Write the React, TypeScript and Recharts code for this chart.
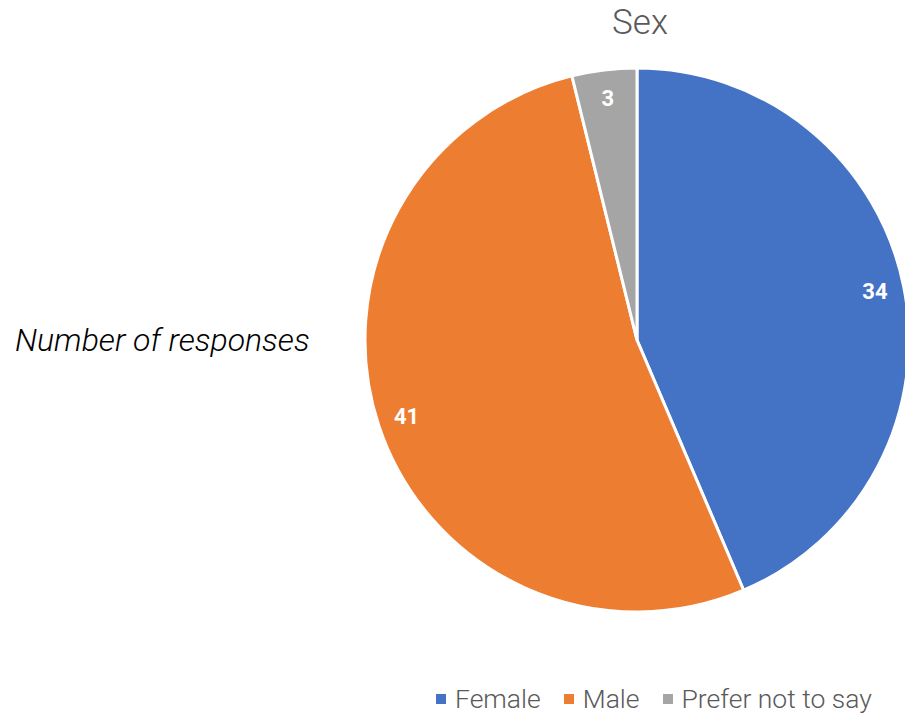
import { PieChart, Pie, Cell, Legend } from 'recharts'

const categories = ['Female', 'Male', 'Prefer not to say']
const responses = [34, 41, 3]
const colors = ['#4472C4', '#ED7D31', '#A5A5A5']

const data = categories.map((name, i) => ({ name, value: responses[i] }))

const RADIAN = Math.PI / 180

function renderLabel(props: any) {
  const { cx, cy, midAngle, outerRadius, value } = props
  const r = outerRadius * 0.893
  const x = cx + r * Math.cos(-midAngle * RADIAN)
  const y = cy + r * Math.sin(-midAngle * RADIAN)
  return (
    <text
      x={x}
      y={y}
      fill="#ffffff"
      textAnchor="middle"
      dominantBaseline="central"
      style={{ fontFamily: 'Roboto', fontWeight: 700, fontSize: 22 }}
    >
      {value}
    </text>
  )
}

function renderLegend(props: any) {
  const { payload } = props
  return (
    <div style={{ display: 'flex', alignItems: 'center', fontFamily: 'Roboto', fontWeight: 300, fontSize: 26.5, color: '#595959', whiteSpace: 'nowrap' }}>
      {payload.map((entry: any, i: number) => (
        <div key={i} style={{ display: 'flex', alignItems: 'center', marginRight: i < payload.length - 1 ? 23 : 0 }}>
          <span style={{ width: 10, height: 10, background: entry.color, display: 'inline-block', marginRight: 9 }} />
          <span>{entry.value}</span>
        </div>
      ))}
    </div>
  )
}

export default function App() {
  return (
    <div style={{ position: 'absolute', left: 0, top: 0, width: 905, height: 718, background: '#fff', overflow: 'hidden' }}>
      <div
        style={{
          position: 'absolute',
          left: 0,
          width: 1280,
          top: 1,
          textAlign: 'center',
          fontFamily: 'Roboto',
          fontWeight: 300,
          fontSize: 35,
          color: '#595959',
          lineHeight: '44px',
        }}
      >
        Sex
      </div>
      <div
        style={{
          position: 'absolute',
          left: 15,
          top: 319,
          fontFamily: 'Roboto',
          fontWeight: 300,
          fontStyle: 'italic',
          fontSize: 32,
          color: '#000',
          lineHeight: '42px',
          whiteSpace: 'nowrap',
        }}
      >
        Number of responses
      </div>
      <PieChart
        width={905}
        height={718}
        margin={{ top: 0, right: 0, bottom: 0, left: 0 }}
        style={{ position: 'absolute', left: 0, top: 0 }}
      >
        <Pie
          data={data}
          dataKey="value"
          nameKey="name"
          cx={637}
          cy={340}
          outerRadius={272}
          startAngle={90}
          endAngle={-270}
          stroke="#ffffff"
          strokeWidth={3}
          label={renderLabel}
          labelLine={false}
          isAnimationActive={false}
        >
          {data.map((d, i) => (
            <Cell key={d.name} fill={colors[i]} />
          ))}
        </Pie>
        <Legend
          content={renderLegend}
          wrapperStyle={{ position: 'absolute', left: 436, top: 683, width: 469 }}
        />
      </PieChart>
    </div>
  )
}
